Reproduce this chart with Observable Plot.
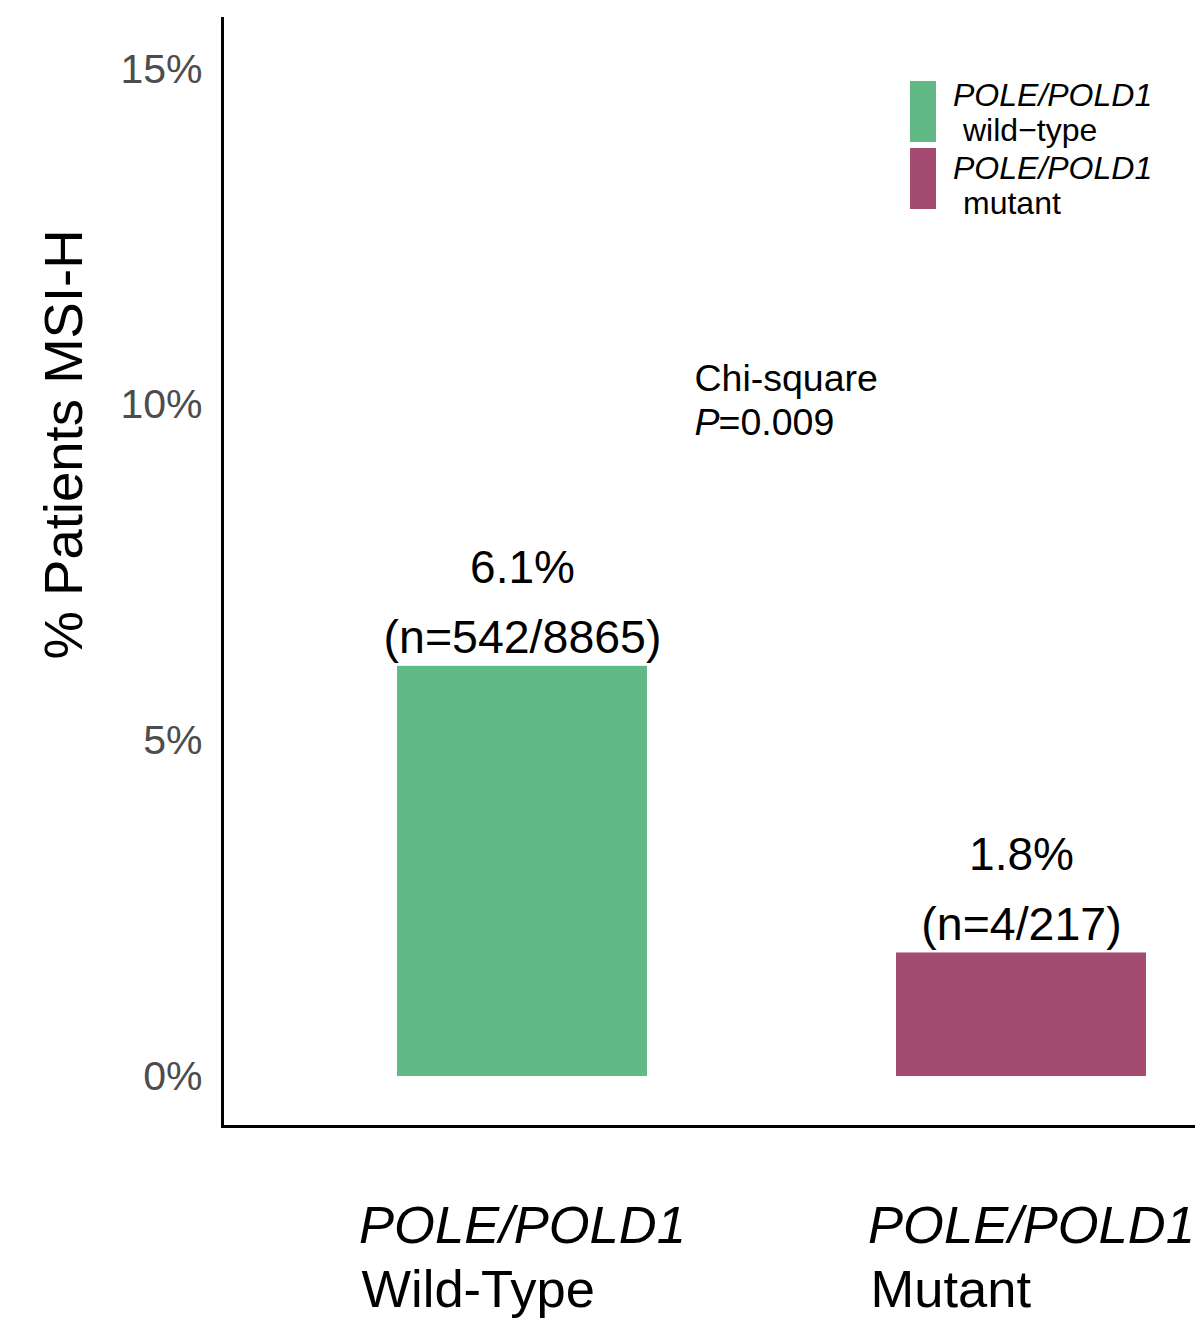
<!DOCTYPE html>
<html><head><meta charset="utf-8">
<script src="https://cdn.jsdelivr.net/npm/d3@7"></script>
<script src="https://cdn.jsdelivr.net/npm/@observablehq/plot@0.6"></script>
<style>
html,body{margin:0;padding:0;background:#fff;overflow:hidden;}
#wrap{position:relative;width:1195px;height:1318px;font-family:"Liberation Sans",Arial,sans-serif;}
.lg{position:absolute;font-size:32px;line-height:35px;white-space:pre;color:#000}
.sw{position:absolute;width:26px}
</style></head><body><div id="wrap"></div>
<script>
const categories = ["Wild-Type", "Mutant"];
const categoryLine1 = ["POLE/POLD1", "POLE/POLD1"];
const values = [6.11, 1.84];
const pctLabels = ["6.1%", "1.8%"];
const countLabels = ["(n=542/8865)", "(n=4/217)"];
const colors = ["#61b985", "#a44b72"];
const legendLine1 = ["POLE/POLD1", "POLE/POLD1"];
const legendLine2 = ["wild\u2212type", "mutant"];
const yTicks = [0, 5, 10, 15];
const yLabel = "% Patients MSI-H";
const testName = "Chi-square";
const pLetter = "P";
const pValue = "=0.009";

const data = categories.map((c, i) => ({idx: i, cat: c, value: values[i], pct: pctLabels[i], n: countLabels[i], l1: categoryLine1[i]}));
const font = "Liberation Sans, Arial, sans-serif";
const first = data.filter(d => d.idx === 0);
const second = data.filter(d => d.idx === 1);

function xLabelMarks(rows, shift) {
  return [
    Plot.text(rows, {x: "cat", text: "l1", frameAnchor: "bottom", lineAnchor: "middle", textAnchor: "middle", dx: shift, dy: 100, fontSize: 52.5, fontStyle: "italic", fill: "black"}),
    Plot.text(rows, {x: "cat", text: "cat", frameAnchor: "bottom", lineAnchor: "middle", textAnchor: "start", dy: 164, dx: shift - 161, fontSize: 52.5, fill: "black"})
  ];
}

const chart = Plot.plot({
  width: 1195, height: 1318,
  marginLeft: 222, marginRight: 0, marginTop: 18, marginBottom: 192,
  style: {fontFamily: font, background: "white"},
  x: {domain: categories, range: [222, 1320], paddingInner: 0.5, paddingOuter: 0.35, axis: null},
  y: {domain: [-0.745, 15.76], axis: null},
  color: {domain: categories, range: colors},
  marks: [
    Plot.barY(data, {x: "cat", y: "value", fill: "cat"}),
    Plot.axisY(yTicks, {tickSize: 0, tickPadding: 20, tickFormat: d => d + "%", fontSize: 41, fill: "#4d4d4d", label: null}),
    Plot.frame({anchor: "left", stroke: "black", strokeWidth: 3}),
    Plot.frame({anchor: "bottom", stroke: "black", strokeWidth: 3}),
    Plot.text(data, {x: "cat", y: "value", text: "pct", dy: -98, fontSize: 46, fill: "black"}),
    Plot.text(data, {x: "cat", y: "value", text: "n", dy: -28, fontSize: 46.5, fill: "black"}),
    ...xLabelMarks(first, 0),
    ...xLabelMarks(second, 10),
    Plot.text([yLabel], {frameAnchor: "top-left", textAnchor: "middle", lineAnchor: "middle", dx: -158, dy: 426, rotate: -90, fontSize: 54.5, fill: "black"}),
    Plot.text([testName], {frameAnchor: "top-left", lineAnchor: "middle", dx: 472, dy: 360, textAnchor: "start", fontSize: 37.5, fill: "black"}),
    Plot.text([pLetter], {frameAnchor: "top-left", lineAnchor: "middle", dx: 472, dy: 404, textAnchor: "start", fontSize: 37.5, fontStyle: "italic", fill: "black"}),
    Plot.text([pValue], {frameAnchor: "top-left", lineAnchor: "middle", dx: 496, dy: 404, textAnchor: "start", fontSize: 37.5, fill: "black"})
  ]
});
const wrap = document.getElementById("wrap");
wrap.appendChild(chart);

legendLine1.forEach((t, i) => {
  const sw = document.createElement("div");
  sw.className = "sw";
  sw.style.left = "910px";
  sw.style.top = (81 + i * 67) + "px";
  sw.style.height = "61px";
  sw.style.background = colors[i];
  wrap.appendChild(sw);
  const a = document.createElement("div");
  a.className = "lg";
  a.style.left = "953px";
  a.style.top = (77.5 + i * 73) + "px";
  a.style.fontStyle = "italic";
  a.textContent = t;
  wrap.appendChild(a);
  const b = document.createElement("div");
  b.className = "lg";
  b.style.left = "963px";
  b.style.top = (112.5 + i * 73) + "px";
  b.textContent = legendLine2[i];
  wrap.appendChild(b);
});
</script>
</body></html>
